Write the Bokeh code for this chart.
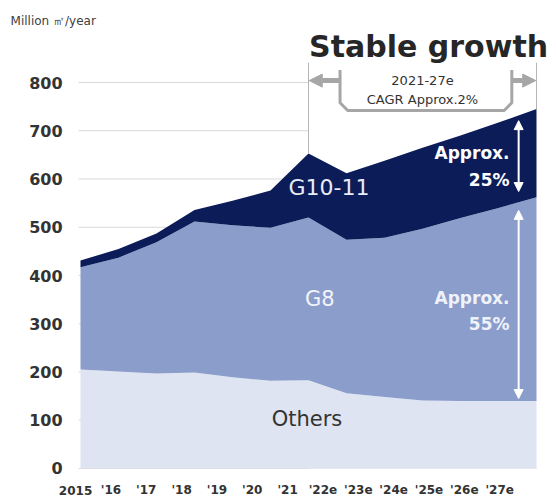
import numpy as np
from bokeh.plotting import figure
from bokeh.models import Range1d, Label, Arrow, NormalHead, ColumnDataSource
from bokeh.core.properties import value
from bokeh.embed import file_html
from bokeh.resources import INLINE

# ---------------- data ----------------
years = [2015, 2016, 2017, 2018, 2019, 2020, 2021, 2022, 2023, 2024, 2025, 2026, 2027]
x_labels = ["2015", "'16", "'17", "'18", "'19", "'20", "'21", "'22e", "'23e",
            "'24e", "'25e", "'26e", "'27e"]
others = [205, 201, 197, 199, 189, 182, 183, 156, 148, 141, 140, 140, 140]
g8 = [212, 236, 272, 313, 315, 317, 337, 318, 330, 356, 379, 400, 422]
g10_11 = [14, 18, 18, 24, 51, 77, 133, 138, 160, 168, 171, 177, 183]
y_ticks = [0, 100, 200, 300, 400, 500, 600, 700, 800]

series = ["others", "g8", "g10_11"]
colors = ["#dee4f1", "#8b9dcb", "#0b1c59"]

g8_top = [a + b for a, b in zip(others, g8)]
total = [a + b for a, b in zip(g8_top, g10_11)]

src = ColumnDataSource(dict(year=years, others=others, g8=g8, g10_11=g10_11))

FONT = "DejaVu Sans"

# frame covers the whole canvas; scales chosen so that 2015..2027 and 0..800
# land where the original chart puts them
p = figure(width=556, height=498, output_backend="svg", toolbar_location=None,
           x_range=Range1d(2012.895, 2027.526), y_range=Range1d(-62.2, 970.0),
           min_border_left=0, min_border_right=0, min_border_top=0,
           min_border_bottom=0, x_axis_location=None, y_axis_location=None)
p.outline_line_color = None
p.background_fill_color = "white"
p.border_fill_color = "white"
p.grid.grid_line_color = None

# grid lines (value axis)
grid_x0 = 2014.95
p.segment(x0=[grid_x0] * len(y_ticks), y0=y_ticks,
          x1=[years[-1]] * len(y_ticks), y1=y_ticks,
          line_color="#d9d9d9", line_width=1)

# value-axis tick labels
p.text(x=[2014.53] * len(y_ticks), y=y_ticks, text=[str(t) for t in y_ticks],
       text_font=value(FONT), text_font_style="bold", text_font_size="16px",
       text_color="#333333", text_align="right", text_baseline="middle")

# category-axis tick labels (slightly compressed relative to the areas, as in the original)
lab_x = np.linspace(2014.87, 2026.03, len(x_labels))
p.text(x=lab_x, y=[-45.6] * len(x_labels), text=x_labels,
       text_font=value(FONT), text_font_style="bold", text_font_size="12px",
       text_color="#333333", text_align="center", text_baseline="middle")

# white block hiding grid lines in the forecast region
p.quad(left=[years[6]], right=[years[-1]], bottom=[0], top=[900],
       fill_color="white", line_color=None)

# stacked areas
p.varea_stack(stackers=series, x="year", color=colors, source=src)

# ---------------- bracket "Stable growth" ----------------
gray = "#a6a6a6"
y_top_line = 841
p.segment(x0=[years[6], years[-1]], y0=[y_top_line, y_top_line],
          x1=[years[6], years[-1]], y1=[total[6], total[-1]],
          line_color="#b5b5b5", line_width=1)

bx0, bx1 = 2021.83, 2026.35
by_top, by_bot = 826, 742
p.line(x=[bx0, bx0, bx0 + 0.2, bx1 - 0.2, bx1, bx1],
       y=[by_top, by_bot + 16, by_bot, by_bot, by_bot + 16, by_top],
       line_color=gray, line_width=3)

arr_y = 804
p.add_layout(Arrow(end=NormalHead(size=13, fill_color=gray, line_color=gray),
                   x_start=bx0, y_start=arr_y, x_end=years[6] + 0.02, y_end=arr_y,
                   line_color=gray, line_width=5))
p.add_layout(Arrow(end=NormalHead(size=13, fill_color=gray, line_color=gray),
                   x_start=bx1, y_start=arr_y, x_end=years[-1] - 0.02, y_end=arr_y,
                   line_color=gray, line_width=5))


def lab(x, y, text, size, color, style="normal", align="center", baseline="middle"):
    p.add_layout(Label(x=x, y=y, text=text, text_font=FONT, text_font_size=size,
                       text_color=color, text_font_style=style, text_align=align,
                       text_baseline=baseline))


lab(2024.16, 875, "Stable growth", "30px", "#262626", "bold")
lab(2024.0, 804, "2021-27e", "13px", "#333333")
lab(2024.0, 765, "CAGR Approx.2%", "13px", "#333333")
lab(2013.16, 928, "Million ㎡/year", "12px", "#404040", align="left")

# ---------------- series labels ----------------
lab(2021.54, 582, "G10-11", "22px", "#e9ecf4")
lab(2021.30, 352, "G8", "21px", "#f2f4fa")
lab(2020.96, 102, "Others", "21px", "#333333")

lab(2026.29, 653, "Approx.", "17px", "white", "bold", align="right")
lab(2026.29, 597, "25%", "17px", "white", "bold", align="right")
lab(2026.29, 354, "Approx.", "17px", "#f0f2fa", "bold", align="right")
lab(2026.29, 300, "55%", "17px", "#f0f2fa", "bold", align="right")

# white double arrows on the right
ax = 2026.53
for y0, y1 in [(total[-1] - 24, g8_top[-1] + 12), (g8_top[-1] - 27, others[-1] + 5)]:
    p.add_layout(Arrow(start=NormalHead(size=9, fill_color="white", line_color="white"),
                       end=NormalHead(size=9, fill_color="white", line_color="white"),
                       x_start=ax, y_start=y0, x_end=ax, y_end=y1,
                       line_color="white", line_width=2))

open("out.html", "w").write(file_html(p, INLINE))
